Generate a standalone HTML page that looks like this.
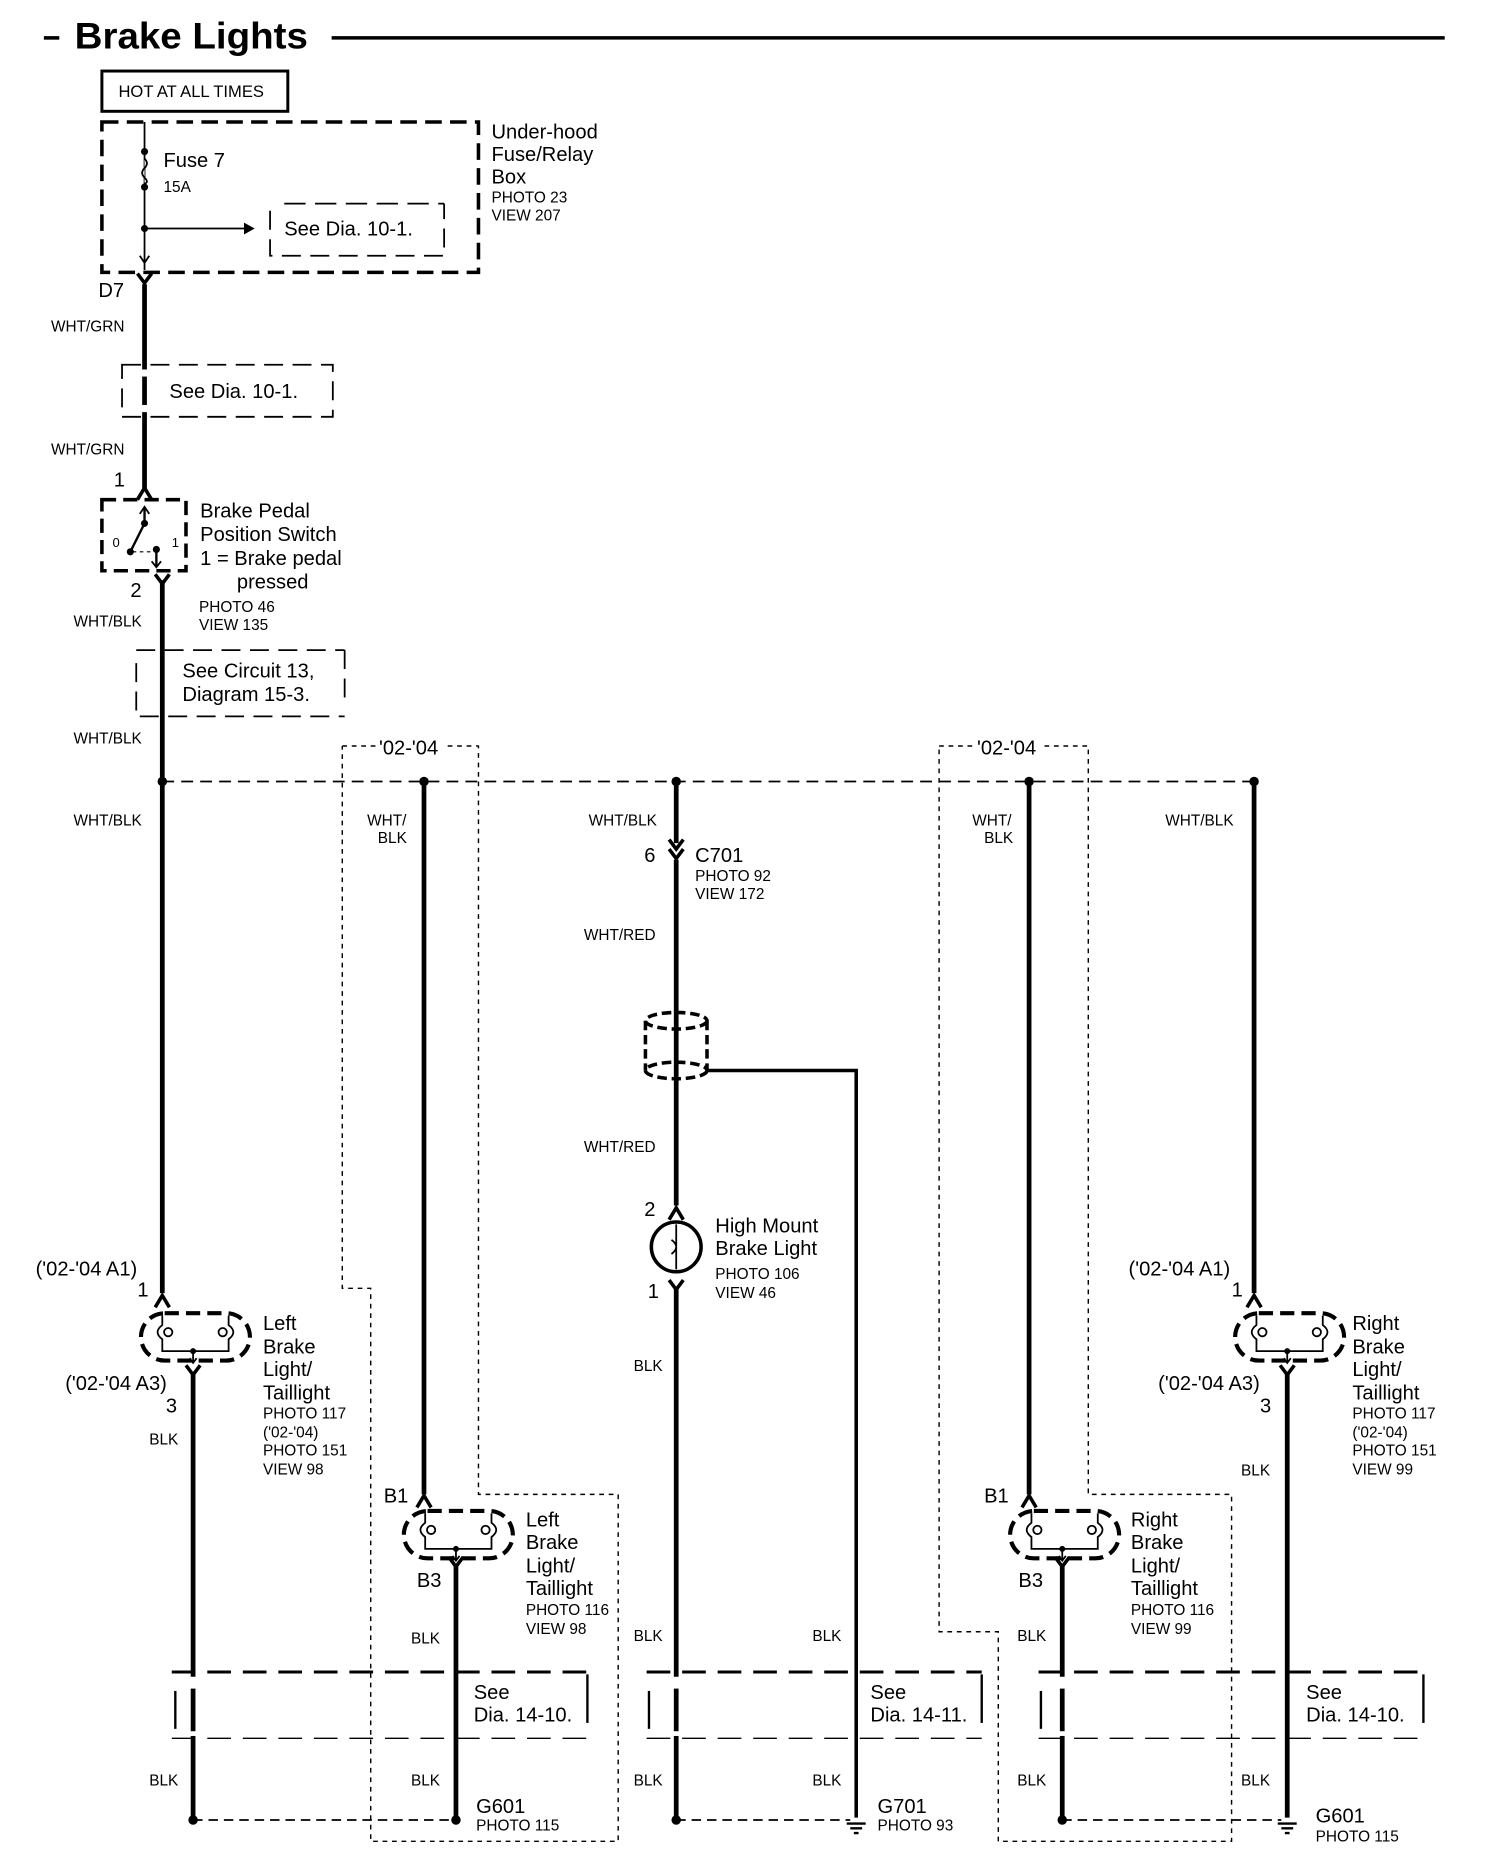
<!DOCTYPE html>
<html><head><meta charset="utf-8"><style>
html,body{margin:0;padding:0;background:#fff}
svg{display:block}
text{font-family:"Liberation Sans",Arial,sans-serif;fill:#000}
.s{font-size:13px}.m{font-size:17px}
</style></head><body>
<svg width="1504" height="1852" viewBox="0 0 1270 1564" xmlns="http://www.w3.org/2000/svg">
<defs>
<g id="lamp">
<rect x="-46" y="-20" width="92" height="40" rx="20" fill="none" stroke="#000" stroke-width="3.5" stroke-dasharray="12 6"/>
<path d="M-28,-18 V-10 Q-36,-4 -28,2 V12 H28 V2 Q36,-4 28,-10 V-18" fill="none" stroke="#000" stroke-width="1.5"/>
<circle cx="-23" cy="-4" r="3.5" fill="#fff" stroke="#000" stroke-width="1.5"/>
<circle cx="23" cy="-4" r="3.5" fill="#fff" stroke="#000" stroke-width="1.5"/>
<circle cx="-2" cy="12" r="2.5"/>
<path d="M-2,12 V22 M-5,18 L-2,22 L1,18" fill="none" stroke="#000" stroke-width="1.5"/>
</g>
<path id="fem" d="M-6,8 L0,-2 L6,8" fill="none" stroke="#000" stroke-width="3"/>
<path id="male" d="M-6,-7 L0,1 L6,-7" fill="none" stroke="#000" stroke-width="3"/>
<g id="gnd"><path d="M-8,0 H8 M-5,4 H5 M-2,8 H2" stroke="#000" stroke-width="2"/></g>
</defs>
<g stroke="#000" fill="none">
<line x1="37" y1="32" x2="50" y2="32" stroke-width="3"/>
<line x1="280" y1="32" x2="1220" y2="32" stroke-width="3"/>
<rect x="86" y="60" width="157" height="34" stroke-width="2.5"/>
<rect x="86" y="103" width="318" height="127" stroke-width="3" stroke-dasharray="14 7"/>
<line x1="122" y1="103" x2="122" y2="228" stroke-width="1.5"/>
<path d="M122,134 q4,4 0,8 q-4,4 0,8 q4,4 0,5" stroke-width="1.5" fill="#fff"/>
<line x1="122" y1="193" x2="208" y2="193" stroke-width="1.5"/>
<path d="M122,222 l-4,-6 M122,222 l4,-6" stroke-width="1.5"/>
<path d="M228,178 V216 H375 V172" stroke-width="1.5" stroke-dasharray="16 8"/>
<line x1="240" y1="172" x2="375" y2="172" stroke-width="1.5" stroke-dasharray="18 8"/>
<line x1="122" y1="240" x2="122" y2="412" stroke-width="4"/>
<rect x="103" y="308" width="178" height="44" stroke-width="1.5" stroke-dasharray="16 8" fill="none"/>
<line x1="122" y1="312" x2="122" y2="348" stroke="#fff" stroke-width="6"/>
<line x1="122" y1="318" x2="122" y2="342" stroke-width="4"/>
<rect x="86" y="422" width="71" height="60" stroke-width="3" stroke-dasharray="12 6"/>
<path d="M122,428 V442 L110,466 M132,466 V478" stroke-width="2"/>
<path d="M118,434 l4,-6 l4,6" stroke-width="1.5"/>
<line x1="112" y1="466" x2="130" y2="466" stroke-width="1" stroke-dasharray="3 3"/>
<path d="M128,474 l4,5 l4,-5" stroke-width="1.5"/>
<line x1="137" y1="490" x2="137" y2="660" stroke-width="4"/>
<path d="M115,549 H291 M115,560 V605 H291 M291,549 V590" stroke-width="1.5" stroke-dasharray="16 8"/>
<path d="M289,630 H318 M378,630 H404 V1262 H522 V1555 H313 V1088 H289 V630" stroke-width="1.2" stroke-dasharray="4 4"/>
<path d="M793,630 H822 M882,630 H919 V1262 H1040 V1555 H843 V1378 H793 V630" stroke-width="1.2" stroke-dasharray="4 4"/>
<line x1="137" y1="660" x2="1059" y2="660" stroke-width="1.5" stroke-dasharray="10 6"/>
<line x1="137" y1="660" x2="137" y2="1092" stroke-width="4"/>
<line x1="358" y1="660" x2="358" y2="1262" stroke-width="4"/>
<line x1="869" y1="660" x2="869" y2="1262" stroke-width="4"/>
<line x1="1059" y1="660" x2="1059" y2="1092" stroke-width="4"/>
<line x1="571" y1="660" x2="571" y2="712" stroke-width="4"/>
<line x1="571" y1="726" x2="571" y2="1018" stroke-width="4"/>
<ellipse cx="571" cy="862" rx="26" ry="7" stroke-width="3" stroke-dasharray="8 4"/>
<ellipse cx="571" cy="904" rx="26" ry="7" stroke-width="3" stroke-dasharray="8 4"/>
<line x1="545" y1="862" x2="545" y2="904" stroke-width="3" stroke-dasharray="8 4"/>
<line x1="597" y1="862" x2="597" y2="904" stroke-width="3" stroke-dasharray="8 4"/>
<path d="M597,904 H723 V1535" stroke-width="3"/>
<circle cx="571" cy="1053" r="21" stroke-width="3"/>
<path d="M571,1034 V1072 M567,1047 q8,6 0,12" stroke-width="1.5"/>
<line x1="571" y1="1088" x2="571" y2="1537" stroke-width="4"/>
<line x1="163" y1="1160" x2="163" y2="1537" stroke-width="4"/>
<line x1="385" y1="1322" x2="385" y2="1537" stroke-width="4"/>
<line x1="897" y1="1322" x2="897" y2="1537" stroke-width="4"/>
<line x1="1087" y1="1160" x2="1087" y2="1535" stroke-width="4"/>
<g stroke-width="2.5" stroke-dasharray="20 10">
<line x1="145" y1="1412" x2="496" y2="1412"/>
<line x1="546" y1="1412" x2="829" y2="1412"/>
<line x1="877" y1="1412" x2="1202" y2="1412"/>
</g>
<g stroke-width="1.2" stroke-dasharray="20 10">
<line x1="145" y1="1468" x2="496" y2="1468"/>
<line x1="546" y1="1468" x2="829" y2="1468"/>
<line x1="877" y1="1468" x2="1202" y2="1468"/>
</g>
<g stroke-width="2">
<line x1="148" y1="1428" x2="148" y2="1460"/>
<line x1="548" y1="1428" x2="548" y2="1460"/>
<line x1="879" y1="1428" x2="879" y2="1460"/>
<line x1="496" y1="1414" x2="496" y2="1455"/>
<line x1="829" y1="1414" x2="829" y2="1455"/>
<line x1="1202" y1="1414" x2="1202" y2="1455"/>
</g>
<g stroke="#fff" stroke-width="7">
<line x1="163" y1="1416" x2="163" y2="1426"/><line x1="163" y1="1462" x2="163" y2="1466"/>
<line x1="571" y1="1416" x2="571" y2="1426"/><line x1="571" y1="1462" x2="571" y2="1466"/>
<line x1="897" y1="1416" x2="897" y2="1426"/><line x1="897" y1="1462" x2="897" y2="1466"/>
</g>
<g stroke-width="1.5" stroke-dasharray="8 5">
<line x1="163" y1="1537" x2="385" y2="1537"/>
<line x1="571" y1="1537" x2="718" y2="1537"/>
<line x1="897" y1="1537" x2="1082" y2="1537"/>
</g>
</g>
<use href="#male" x="122" y="238"/>
<use href="#fem" x="122" y="414"/>
<use href="#male" x="137" y="492"/>
<use href="#male" x="571" y="716"/><use href="#male" x="571" y="724"/>
<use href="#fem" x="571" y="1022"/>
<use href="#male" x="571" y="1088"/>
<use href="#fem" x="137" y="1096"/>
<use href="#male" x="163" y="1160"/>
<use href="#fem" x="358" y="1265"/>
<use href="#male" x="385" y="1322"/>
<use href="#fem" x="869" y="1265"/>
<use href="#male" x="897" y="1322"/>
<use href="#fem" x="1059" y="1096"/>
<use href="#male" x="1087" y="1160"/>
<use href="#lamp" x="165" y="1129"/>
<use href="#lamp" x="387" y="1296"/>
<use href="#lamp" x="899" y="1296"/>
<use href="#lamp" x="1089" y="1129"/>
<g fill="#000">
<circle cx="122" cy="128" r="3"/><circle cx="122" cy="158" r="3"/><circle cx="122" cy="193" r="3"/>
<path d="M215,193 l-9,-5 v10z"/>
<circle cx="122" cy="442" r="3"/><circle cx="110" cy="466" r="3"/><circle cx="132" cy="464" r="3"/>
<circle cx="137" cy="660" r="4"/><circle cx="358" cy="660" r="4"/><circle cx="571" cy="660" r="4"/><circle cx="869" cy="660" r="4"/><circle cx="1059" cy="660" r="4"/>
<circle cx="163" cy="1537" r="4"/><circle cx="385" cy="1537" r="4"/><circle cx="571" cy="1537" r="4"/><circle cx="897" cy="1537" r="4"/>
</g>
<use href="#gnd" x="723" y="1540"/>
<use href="#gnd" x="1087" y="1540"/>
<text x="63" y="41" style="font-size:31px;font-weight:bold" textLength="197" lengthAdjust="spacingAndGlyphs">Brake Lights</text>
<text x="100" y="82" style="font-size:14px">HOT AT ALL TIMES</text>
<text x="138" y="141" class="m">Fuse 7</text>
<text x="138" y="162" class="s">15A</text>
<text x="240" y="199" class="m">See Dia. 10-1.</text>
<text x="415" y="117" class="m">Under-hood</text>
<text x="415" y="136" class="m">Fuse/Relay</text>
<text x="415" y="155" class="m">Box</text>
<text x="415" y="171" class="s">PHOTO 23</text>
<text x="415" y="186" class="s">VIEW 207</text>
<text x="83" y="251" class="m">D7</text>
<text x="43" y="280" class="s">WHT/GRN</text>
<text x="143" y="336" class="m">See Dia. 10-1.</text>
<text x="43" y="384" class="s">WHT/GRN</text>
<text x="96" y="411" class="m">1</text>
<text x="95" y="462" style="font-size:11px">0</text>
<text x="145" y="462" style="font-size:11px">1</text>
<text x="169" y="437" class="m">Brake Pedal</text>
<text x="169" y="457" class="m">Position Switch</text>
<text x="169" y="477" class="m">1 = Brake pedal</text>
<text x="200" y="497" class="m">pressed</text>
<text x="110" y="504" class="m">2</text>
<text x="168" y="517" class="s">PHOTO 46</text>
<text x="168" y="532" class="s">VIEW 135</text>
<text x="62" y="529" class="s">WHT/BLK</text>
<text x="154" y="572" class="m">See Circuit 13,</text>
<text x="154" y="592" class="m">Diagram 15-3.</text>
<text x="62" y="628" class="s">WHT/BLK</text>
<text x="320" y="637" class="m">'02-'04</text>
<text x="825" y="637" class="m">'02-'04</text>
<text x="62" y="697" class="s">WHT/BLK</text>
<text x="310" y="697" class="s">WHT/</text>
<text x="319" y="712" class="s">BLK</text>
<text x="497" y="697" class="s">WHT/BLK</text>
<text x="821" y="697" class="s">WHT/</text>
<text x="831" y="712" class="s">BLK</text>
<text x="984" y="697" class="s">WHT/BLK</text>
<text x="544" y="728" class="m">6</text>
<text x="587" y="728" class="m">C701</text>
<text x="587" y="744" class="s">PHOTO 92</text>
<text x="587" y="759" class="s">VIEW 172</text>
<text x="493" y="794" class="s">WHT/RED</text>
<text x="493" y="973" class="s">WHT/RED</text>
<text x="544" y="1027" class="m">2</text>
<text x="547" y="1096" class="m">1</text>
<text x="604" y="1041" class="m">High Mount</text>
<text x="604" y="1060" class="m">Brake Light</text>
<text x="604" y="1080" class="s">PHOTO 106</text>
<text x="604" y="1096" class="s">VIEW 46</text>
<text x="535" y="1158" class="s">BLK</text>
<text x="30" y="1077" class="m">('02-'04 A1)</text>
<text x="116" y="1095" class="m">1</text>
<text x="55" y="1174" class="m">('02-'04 A3)</text>
<text x="140" y="1193" class="m">3</text>
<text x="126" y="1220" class="s">BLK</text>
<text x="222" y="1123" class="m">Left</text>
<text x="222" y="1143" class="m">Brake</text>
<text x="222" y="1162" class="m">Light/</text>
<text x="222" y="1182" class="m">Taillight</text>
<text x="222" y="1198" class="s">PHOTO 117</text>
<text x="222" y="1214" class="s">('02-'04)</text>
<text x="222" y="1229" class="s">PHOTO 151</text>
<text x="222" y="1245" class="s">VIEW 98</text>
<text x="953" y="1077" class="m">('02-'04 A1)</text>
<text x="1040" y="1095" class="m">1</text>
<text x="978" y="1174" class="m">('02-'04 A3)</text>
<text x="1064" y="1193" class="m">3</text>
<text x="1048" y="1246" class="s">BLK</text>
<text x="1142" y="1123" class="m">Right</text>
<text x="1142" y="1143" class="m">Brake</text>
<text x="1142" y="1162" class="m">Light/</text>
<text x="1142" y="1182" class="m">Taillight</text>
<text x="1142" y="1198" class="s">PHOTO 117</text>
<text x="1142" y="1214" class="s">('02-'04)</text>
<text x="1142" y="1229" class="s">PHOTO 151</text>
<text x="1142" y="1245" class="s">VIEW 99</text>
<text x="324" y="1269" class="m">B1</text>
<text x="352" y="1340" class="m">B3</text>
<text x="444" y="1289" class="m">Left</text>
<text x="444" y="1308" class="m">Brake</text>
<text x="444" y="1328" class="m">Light/</text>
<text x="444" y="1347" class="m">Taillight</text>
<text x="444" y="1364" class="s">PHOTO 116</text>
<text x="444" y="1380" class="s">VIEW 98</text>
<text x="831" y="1269" class="m">B1</text>
<text x="860" y="1340" class="m">B3</text>
<text x="955" y="1289" class="m">Right</text>
<text x="955" y="1308" class="m">Brake</text>
<text x="955" y="1328" class="m">Light/</text>
<text x="955" y="1347" class="m">Taillight</text>
<text x="955" y="1364" class="s">PHOTO 116</text>
<text x="955" y="1380" class="s">VIEW 99</text>
<text x="347" y="1388" class="s">BLK</text>
<text x="535" y="1386" class="s">BLK</text>
<text x="686" y="1386" class="s">BLK</text>
<text x="859" y="1386" class="s">BLK</text>
<text x="400" y="1435" class="m">See</text>
<text x="400" y="1454" class="m">Dia.  14-10.</text>
<text x="735" y="1435" class="m">See</text>
<text x="735" y="1454" class="m">Dia.  14-11.</text>
<text x="1103" y="1435" class="m">See</text>
<text x="1103" y="1454" class="m">Dia.  14-10.</text>
<text x="126" y="1508" class="s">BLK</text>
<text x="347" y="1508" class="s">BLK</text>
<text x="535" y="1508" class="s">BLK</text>
<text x="686" y="1508" class="s">BLK</text>
<text x="859" y="1508" class="s">BLK</text>
<text x="1048" y="1508" class="s">BLK</text>
<text x="402" y="1531" class="m">G601</text>
<text x="402" y="1546" class="s">PHOTO 115</text>
<text x="741" y="1531" class="m">G701</text>
<text x="741" y="1546" class="s">PHOTO 93</text>
<text x="1111" y="1539" class="m">G601</text>
<text x="1111" y="1555" class="s">PHOTO 115</text>
</svg>
</body></html>
